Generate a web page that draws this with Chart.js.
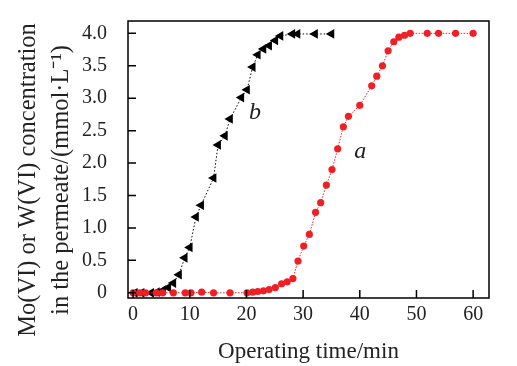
<!DOCTYPE html>
<html>
<head>
<meta charset="utf-8">
<script src="https://cdn.jsdelivr.net/npm/chart.js@4"></script>
<style>
  html, body { margin: 0; padding: 0; background: #fff; }
  canvas { display: block; }
</style>
</head>
<body>
<canvas id="myChart" width="517" height="366"></canvas>
<script>
// curve a (red dots)
const timeA = [0, 1.2, 2.2, 4.1, 5.2, 7.1, 9.2, 10.2, 12.1, 14.2, 17.1, 20.1, 21.1, 22, 23, 24, 25.1, 26.2, 27.2, 28.2,
  29.1, 30.1, 31.1, 32.2, 33.1, 34.1, 35.1, 36.1, 37.1, 38, 40, 42.1, 43, 44, 45, 46, 46.9, 47.9, 48.9, 51.9, 53.9, 56.9, 60];
const concA = [0, 0, 0, 0, 0, 0, 0, 0, 0.01, 0, 0, 0, 0.01, 0.02, 0.03, 0.05, 0.08, 0.14, 0.17, 0.22,
  0.49, 0.72, 0.9, 1.24, 1.39, 1.66, 1.9, 2.22, 2.56, 2.72, 2.89, 3.19, 3.34, 3.5, 3.73, 3.87, 3.94, 3.97, 4.0, 4.0, 4.0, 4.0, 4.0];

// curve b (black triangles)
const timeB = [0.3, 1.5, 3.2, 4.2, 5.3, 6.2, 7.1, 8.1, 9.1, 10, 11.1, 12, 14.2, 15, 16.2, 17.1, 19.1, 20.1, 21.1, 22,
  23, 24, 25.1, 26, 28.1, 29, 32.1, 35];
const concB = [0, 0, 0, 0.01, 0.04, 0.08, 0.15, 0.28, 0.54, 0.7, 1.17, 1.35, 1.77, 2.28, 2.42, 2.68, 3.01, 3.13, 3.48, 3.67,
  3.76, 3.81, 3.89, 3.96, 3.99, 3.99, 3.99, 3.99];

const xTicks = [0, 10, 20, 30, 40, 50, 60];
const yTicks = [0, 0.5, 1.0, 1.5, 2.0, 2.5, 3.0, 3.5, 4.0];
const yTitle = ['Mo(VI) or W(VI) concentration', 'in the permeate/(mmol\u00B7L\u207B\u00B9)'];
const xTitle = 'Operating time/min';
const curveLabels = [{ text: 'a', x: 40.1, y: 2.17 }, { text: 'b', x: 21.5, y: 2.77 }];

const serif = '"Liberation Serif", "Times New Roman", serif';

const toPoints = (xs, ys) => xs.map((x, i) => ({ x: x, y: ys[i] }));

// frame, inward ticks, y title and curve labels
const decorations = {
  id: 'decorations',
  afterDraw(chart) {
    const ctx = chart.ctx;
    const area = chart.chartArea;
    const xs = chart.scales.x;
    const ys = chart.scales.y;
    ctx.save();
    ctx.strokeStyle = '#000';
    ctx.lineWidth = 1.5;
    ctx.strokeRect(area.left, area.top, area.right - area.left, area.bottom - area.top);
    ctx.beginPath();
    xTicks.forEach(v => {
      const px = xs.getPixelForValue(v);
      ctx.moveTo(px, area.bottom);
      ctx.lineTo(px, area.bottom - 8);
    });
    yTicks.forEach(v => {
      const py = ys.getPixelForValue(v);
      ctx.moveTo(area.left, py);
      ctx.lineTo(area.left + 8, py);
    });
    ctx.stroke();

    ctx.fillStyle = '#222';
    ctx.font = '24.5px ' + serif;
    ctx.textAlign = 'center';
    ctx.textBaseline = 'middle';
    ctx.translate(29, 180);
    ctx.rotate(-Math.PI / 2);
    ctx.fillText(yTitle[0], 0, 0);
    ctx.fillText(yTitle[1], 0, 33);
    ctx.restore();

    ctx.save();
    ctx.fillStyle = '#222';
    ctx.font = 'italic 24px ' + serif;
    ctx.textAlign = 'center';
    ctx.textBaseline = 'middle';
    curveLabels.forEach(l => {
      ctx.fillText(l.text, xs.getPixelForValue(l.x), ys.getPixelForValue(l.y));
    });
    ctx.restore();
  }
};

new Chart(document.getElementById('myChart').getContext('2d'), {
  type: 'scatter',
  data: {
    datasets: [
      {
        label: 'a',
        data: toPoints(timeA, concA),
        showLine: true,
        borderColor: '#ee2026',
        backgroundColor: '#ee2026',
        borderWidth: 1,
        borderDash: [1.5, 1.5],
        pointStyle: 'circle',
        pointRadius: 3.6,
        pointBorderWidth: 0
      },
      {
        label: 'b',
        data: toPoints(timeB, concB),
        showLine: true,
        borderColor: '#000',
        backgroundColor: '#000',
        borderWidth: 1,
        borderDash: [1.5, 2],
        pointStyle: 'triangle',
        pointRotation: -90,
        pointRadius: 5.6,
        pointBorderWidth: 0
      }
    ]
  },
  options: {
    responsive: false,
    animation: false,
    devicePixelRatio: 1,
    layout: { padding: { top: 21, right: 28, left: 0, bottom: 0 } },
    plugins: { legend: { display: false }, tooltip: { enabled: false } },
    scales: {
      x: {
        type: 'linear',
        min: -0.9,
        max: 62.8,
        grid: { display: false, drawTicks: false },
        border: { display: false },
        afterBuildTicks: s => { s.ticks = xTicks.map(v => ({ value: v })); },
        afterFit: s => { s.height = 68; s.paddingLeft = 0; s.paddingRight = 0; },
        ticks: { color: '#222', padding: 5, font: { family: serif, size: 20 }, maxRotation: 0 },
        title: { display: true, text: xTitle, color: '#222', font: { family: serif, size: 23 }, padding: { top: 0, bottom: 0 } }
      },
      y: {
        type: 'linear',
        min: -0.08,
        max: 4.19,
        grid: { display: false, drawTicks: false },
        border: { display: false },
        afterBuildTicks: s => { s.ticks = yTicks.map(v => ({ value: v })); },
        afterFit: s => { s.width = 128; s.paddingTop = 0; s.paddingBottom = 0; },
        ticks: {
          color: '#222', padding: 21, font: { family: serif, size: 20 },
          callback: v => v === 0 ? '0' : v.toFixed(1)
        }
      }
    }
  },
  plugins: [decorations]
});
</script>
</body>
</html>
